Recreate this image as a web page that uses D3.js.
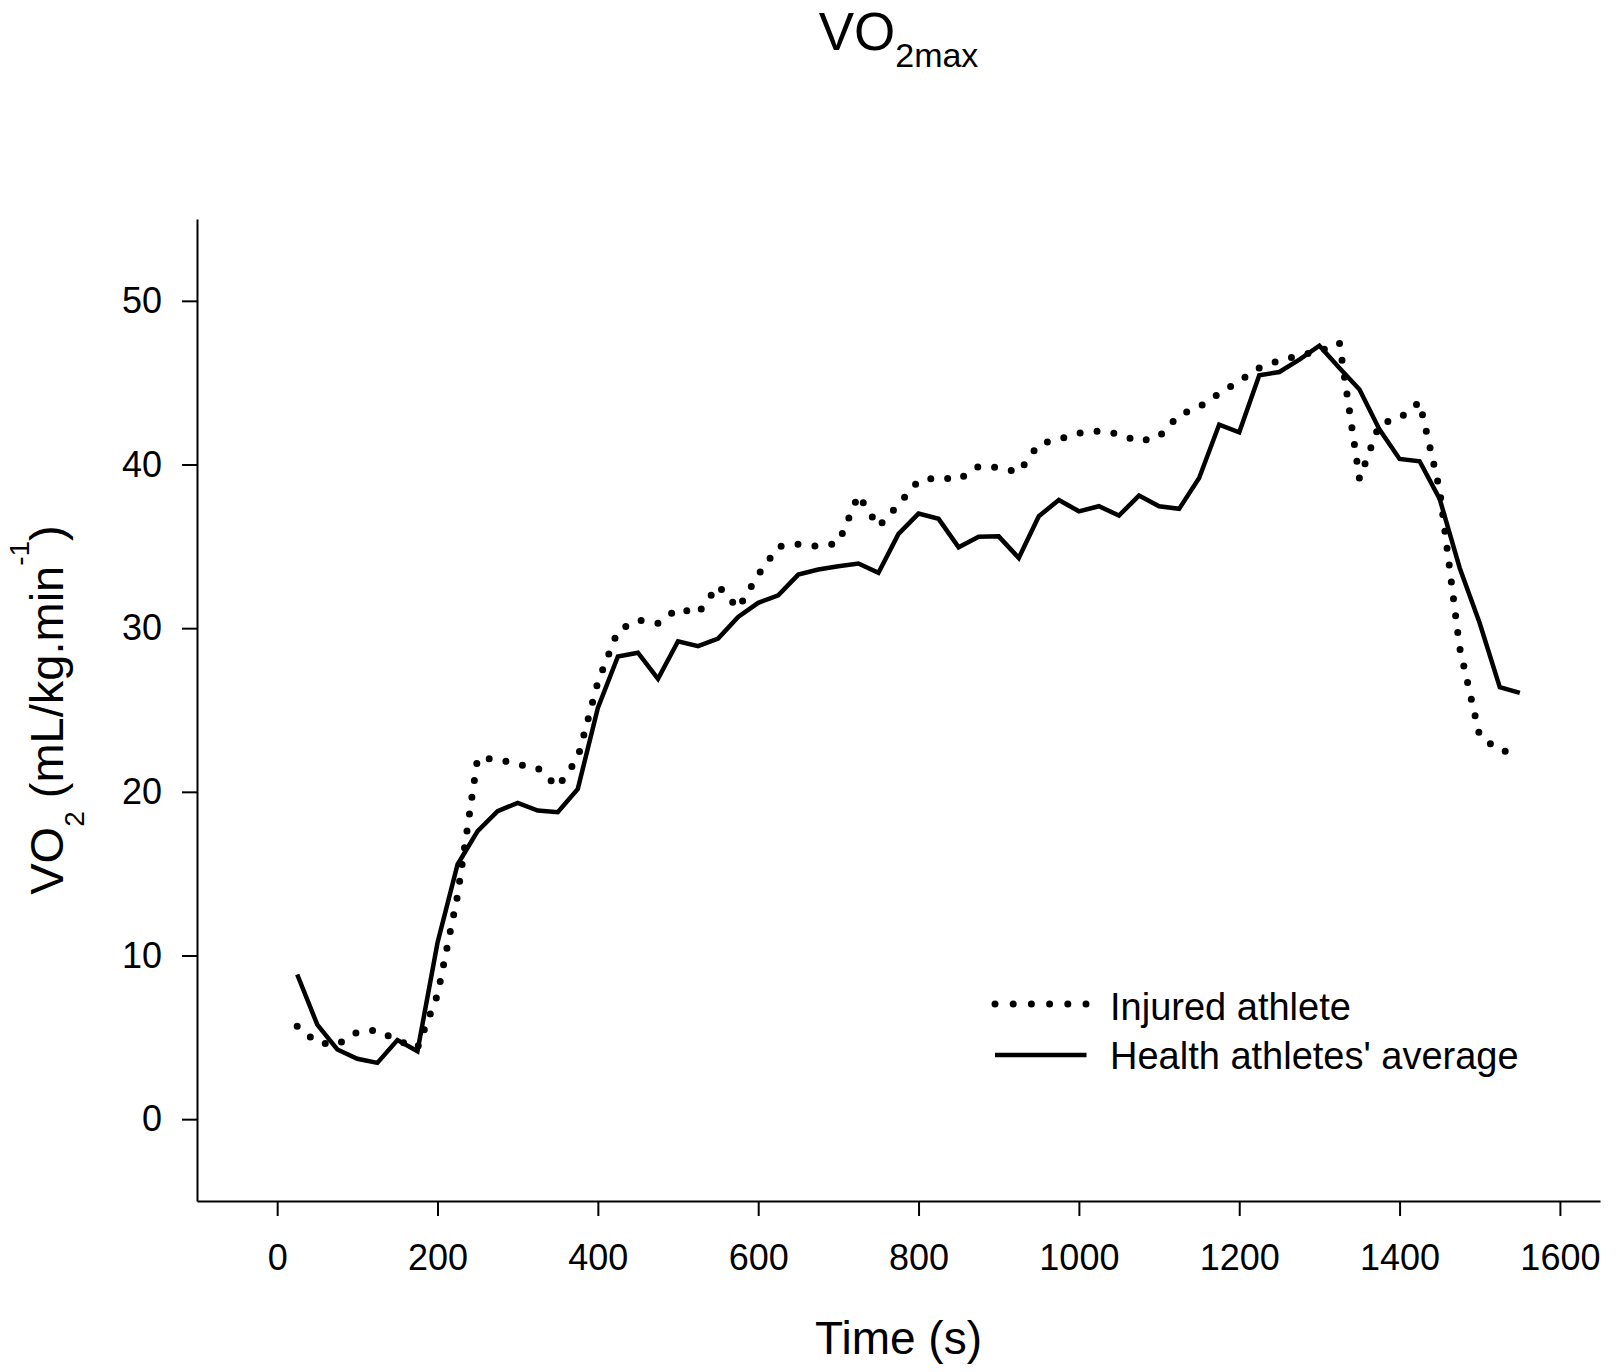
<!DOCTYPE html>
<meta charset="utf-8">
<script src="https://d3js.org/d3.v7.min.js"></script>
<style>
    body { margin: 0; background: #fff; }
</style>
<div id="my_dataviz"></div>

<script>
    // time points (s)
    const times = [25, 50, 75, 100, 125, 150, 175, 200, 225, 250, 275, 300, 325, 350, 375, 400,
        425, 450, 475, 500, 525, 550, 575, 600, 625, 650, 675, 700, 725, 750, 775, 800,
        825, 850, 875, 900, 925, 950, 975, 1000, 1025, 1050, 1075, 1100, 1125, 1150, 1175, 1200,
        1225, 1250, 1275, 1300, 1325, 1350, 1375, 1400, 1425, 1450, 1475, 1500, 1525, 1550];

    // injured athlete (dotted)
    const injured = [5.68, 4.67, 4.56, 5.32, 5.44, 4.8, 4.36, 7.6, 13.67, 22.05, 22.0, 21.67, 21.46, 20.3, 22.07, 26.7,
        29.85, 30.5, 30.3, 31.2, 30.9, 32.6, 31.2, 33.26, 34.98, 35.13, 35.0, 35.2, 38.14, 36.19, 37.56, 39.0,
        39.2, 39.08, 39.89, 39.82, 39.53, 41.24, 41.55, 41.92, 42.05, 41.86, 41.4, 41.7, 43.03, 43.51, 44.34, 45.1,
        45.9, 46.35, 46.67, 46.92, 47.43, 39.12, 42.48, 42.82, 43.82, 38.45, 28.8, 23.4, 22.54, 22.3];

    // health athletes' average (solid)
    const healthy = [8.84, 5.78, 4.26, 3.69, 3.44, 4.83, 4.15, 10.78, 15.56, 17.6, 18.82, 19.33, 18.86, 18.76, 20.18, 25.13,
        28.27, 28.5, 26.9, 29.2, 28.9, 29.37, 30.69, 31.55, 32.0, 33.27, 33.58, 33.78, 33.95, 33.38, 35.76, 37.0,
        36.68, 34.94, 35.58, 35.61, 34.29, 36.84, 37.83, 37.14, 37.45, 36.88, 38.1, 37.45, 37.29, 39.18, 42.44, 41.97,
        45.45, 45.65, 46.41, 47.26, 45.9, 44.58, 42.13, 40.34, 40.2, 37.9, 33.68, 30.3, 26.4, 26.05];

    const xTicks = [0, 200, 400, 600, 800, 1000, 1200, 1400, 1600];
    const yTicks = [0, 10, 20, 30, 40, 50];
    const seriesNames = ["Injured athlete", "Health athletes' average"];

    const font = "'Liberation Sans', Arial, Helvetica, sans-serif";

    //margins
    const margin = {top: 219, right: 17, bottom: 171, left: 197},
        width = 1617 - margin.left - margin.right,
        height = 1372 - margin.top - margin.bottom;

    const root = d3.select("#my_dataviz")
        .append("svg")
        .attr("width", width + margin.left + margin.right)
        .attr("height", height + margin.top + margin.bottom)
        .style("display", "block")
        .style("font-family", font);

    const svg = root.append("g")
        .attr("transform", `translate(${margin.left}, ${margin.top})`);

    // scales
    const x = d3.scaleLinear()
        .domain([-100, 1650])
        .range([0, width]);
    const y = d3.scaleLinear()
        .domain([-5, 55])
        .range([height, 0]);

    // X axis
    const gx = svg.append("g")
        .attr("transform", `translate(0, ${height})`)
        .call(d3.axisBottom(x).tickValues(xTicks).tickFormat(d3.format("d"))
            .tickSize(15).tickSizeOuter(0).tickPadding(28));

    // Y axis
    const gy = svg.append("g")
        .call(d3.axisLeft(y).tickValues(yTicks).tickFormat(d3.format("d"))
            .tickSize(15).tickSizeOuter(0).tickPadding(20));

    [gx, gy].forEach(g => {
        g.attr("font-family", font).attr("font-size", 36);
        g.selectAll("path, line").attr("stroke", "#000").attr("stroke-width", 2);
        g.selectAll("text").attr("fill", "#000");
    });

    const line = d3.line()
        .x((d, i) => x(times[i]))
        .y(d => y(d));

    // solid line
    svg.append("path")
        .datum(healthy)
        .attr("fill", "none")
        .attr("stroke", "#000")
        .attr("stroke-width", 4.5)
        .attr("d", line);

    // dotted line
    svg.append("path")
        .datum(injured)
        .attr("fill", "none")
        .attr("stroke", "#000")
        .attr("stroke-width", 7)
        .attr("stroke-linecap", "round")
        .attr("stroke-dasharray", "0 17")
        .attr("d", line);

    // legend
    const legend = root.append("g");
    const legendRows = [
        {name: seriesNames[0], dash: "0 18.2", width: 7, cap: "round", ly: 1004, ty: 1020},
        {name: seriesNames[1], dash: null, width: 4.5, cap: "butt", ly: 1055, ty: 1069}
    ];
    legendRows.forEach(r => {
        legend.append("line")
            .attr("x1", 995).attr("x2", 1086.5)
            .attr("y1", r.ly).attr("y2", r.ly)
            .attr("stroke", "#000")
            .attr("stroke-width", r.width)
            .attr("stroke-linecap", r.cap)
            .attr("stroke-dasharray", r.dash);
        legend.append("text")
            .attr("x", 1110)
            .attr("y", r.ty)
            .attr("font-size", 38)
            .text(r.name);
    });

    // title
    const title = root.append("text")
        .attr("x", margin.left + width / 2)
        .attr("y", 50)
        .attr("text-anchor", "middle");
    title.append("tspan").attr("font-size", 53).text("VO");
    title.append("tspan").attr("font-size", 34).attr("dy", 16.7).text("2max");

    // x axis title
    root.append("text")
        .attr("x", margin.left + width / 2)
        .attr("y", 1354)
        .attr("text-anchor", "middle")
        .attr("font-size", 46)
        .text("Time (s)");

    // y axis title
    const ylab = root.append("text")
        .attr("transform", `translate(63, ${margin.top + height / 2}) rotate(-90)`)
        .attr("text-anchor", "middle")
        .attr("font-size", 47);
    ylab.append("tspan").text("VO");
    ylab.append("tspan").attr("font-size", 28).attr("dy", 21).text("2");
    ylab.append("tspan").attr("dy", -21).text(" (mL/kg.min");
    ylab.append("tspan").attr("font-size", 28).attr("dy", -34).text("-1");
    ylab.append("tspan").attr("dy", 34).text(")");
</script>
